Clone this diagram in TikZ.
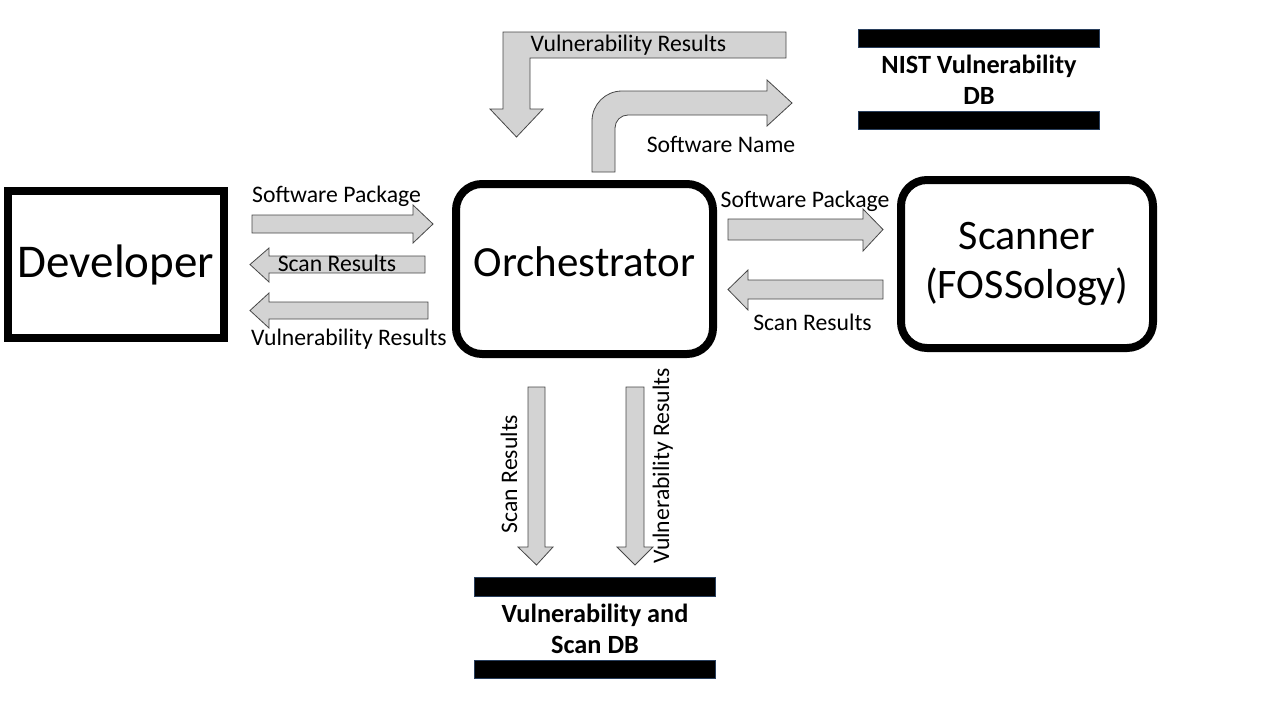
\documentclass[tikz,border=0pt]{standalone}
\usepackage{fontspec}
\setmainfont{Carlito}
\definecolor{arrowgray}{RGB}{211,211,211}
\definecolor{edgegray}{RGB}{70,70,70}
\definecolor{dbedge}{RGB}{40,62,92}
\begin{document}
\begin{tikzpicture}[x=1pt, y=-1pt,
    lbl/.style={font=\fontsize{23.7}{28}\selectfont, inner sep=0pt, anchor=base},
    big/.style={font=\fontsize{42}{49}\selectfont, align=center, inner sep=0pt, draw, line width=8pt},
    blk/.style={fill=arrowgray, draw=edgegray, line width=.8pt, line join=miter},
    dbtext/.style={font=\fontsize{26.3}{31}\selectfont\bfseries, align=center, inner sep=0pt, minimum width=240pt, minimum height=63pt},
    dbbar/.style={fill=black, draw=dbedge, line width=.8pt}]

  \useasboundingbox (0, 0) rectangle (1280, 720);

  \node[big, minimum width=216pt, minimum height=147pt, font=\fontsize{47}{54}\selectfont](dev) at (116, 264.5){Developer};
  \node[big, rounded corners=26pt, minimum width=257pt, minimum height=170pt, text depth=15pt, font=\fontsize{43}{50}\selectfont](orch) at (584.5, 269){Orchestrator};
  \node[big, rounded corners=26pt, minimum width=252pt, minimum height=168pt](scan) at (1027, 264){Scanner\\(FOSSology)};

  \node[dbtext](nist) at (979, 79.5){NIST Vulnerability\\DB};
    \draw[dbbar](nist.north west) rectangle ([yshift=18pt]nist.north east);
    \draw[dbbar](nist.south west) rectangle ([yshift=-18pt]nist.south east);
  \node[dbtext](vdb) at (595, 628.5){Vulnerability and\\Scan DB};
    \draw[dbbar](vdb.north west) rectangle ([yshift=19pt]vdb.north east);
    \draw[dbbar](vdb.south west) rectangle ([yshift=-18pt]vdb.south east);

  \draw[blk](252, 215) -- (413, 215) -- (413, 205) -- (433, 224) -- (413, 243) -- (413, 233) -- (252, 233) -- cycle;
  \draw[blk](425, 256) -- (269, 256) -- (269, 248) -- (250, 264.5) -- (269, 282) -- (269, 273) -- (425, 273) -- cycle;
  \draw[blk](428, 302) -- (269, 302) -- (269, 293) -- (250, 310.5) -- (269, 328) -- (269, 319) -- (428, 319) -- cycle;

  \draw[blk](728, 219) -- (863, 219) -- (863, 209) -- (883, 229.5) -- (863, 251) -- (863, 240) -- (728, 240) -- cycle;
  \draw[blk](883, 280) -- (748, 280) -- (748, 270) -- (728, 289.5) -- (748, 310) -- (748, 299) -- (883, 299) -- cycle;

  \draw[blk](528, 387) -- (528, 547) -- (518, 547) -- (536.5, 565) -- (553, 547) -- (545, 547) -- (545, 387) -- cycle;
  \draw[blk](626, 387) -- (626, 547) -- (617, 547) -- (635, 565) -- (653, 547) -- (644, 547) -- (644, 387) -- cycle;

  \draw[blk](786, 32) -- (503, 32) -- (503, 109) -- (490, 109) -- (516.5, 137) -- (543, 109) -- (530, 109) -- (530, 58) -- (786, 58) -- cycle;
  \draw[blk](592, 172) -- (592, 121) .. controls (592, 104.4) and (605.4, 91) .. (622, 91) -- (767, 91) -- (767, 80) -- (792, 103)
    -- (767, 126) -- (767, 115) -- (628, 115) .. controls (620.8, 115) and (615, 120.8) .. (615, 128) -- (615, 172) -- cycle;

  \node[lbl](l1) at (336.5, 202){Software Package};
  \node[lbl](l2) at (337, 271){Scan Results};
  \node[lbl](l3) at (349, 345){Vulnerability Results};
  \node[lbl](l4) at (805, 207){Software Package};
  \node[lbl](l5) at (812.5, 330){Scan Results};
  \node[lbl](l6) at (628.5, 51){Vulnerability Results};
  \node[lbl](l7) at (721, 152){Software Name};
  \node[lbl, rotate=90](l8) at (517, 474){Scan Results};
  \node[lbl, rotate=90](l9) at (669, 466){Vulnerability Results};

\end{tikzpicture}
\end{document}
